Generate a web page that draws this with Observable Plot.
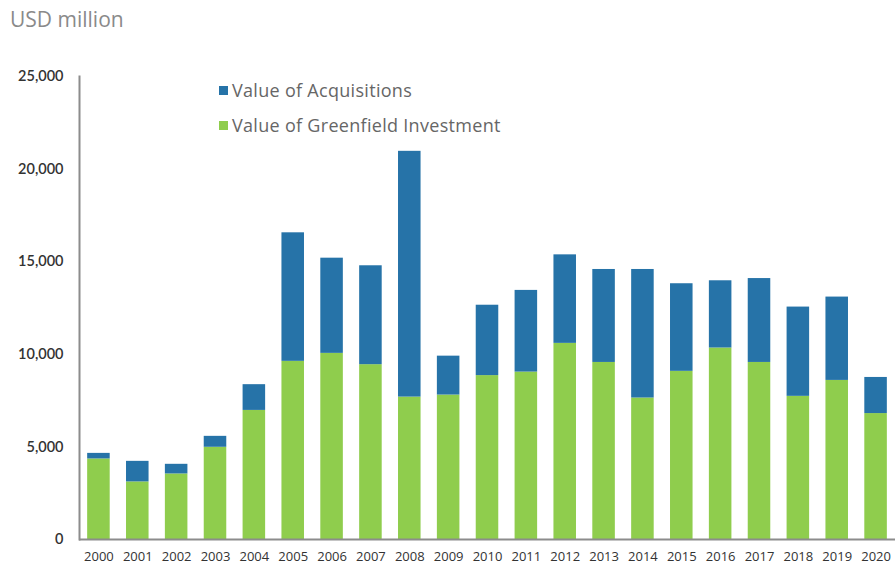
<!DOCTYPE html>
<html>
<head>
<meta charset="utf-8">
<script src="https://cdn.jsdelivr.net/npm/d3@7"></script>
<script src="https://cdn.jsdelivr.net/npm/@observablehq/plot@0.6"></script>
<style>
  body { margin: 0; background: #fff; font-family: "Open Sans", Lato, sans-serif; }
  #wrap { position: relative; width: 896px; height: 570px; }
  #title { height: 36px; padding-left: 10px; font-size: 21px; color: #8a8a8a; line-height: 38px; }
  .legend { position: absolute; left: 219px; font-size: 18px; letter-spacing: 0.3px; color: #666; display: flex; align-items: center; }
  .legend span.sw { display: inline-block; width: 9px; height: 9px; margin-right: 4px; }
</style>
</head>
<body>
<div id="wrap">
  <div id="title">USD million</div>
  <div id="chart"></div>
  <div class="legend" style="top:78px"><span class="sw" style="background:#2673a8"></span>Value of Acquisitions</div>
  <div class="legend" style="top:113px"><span class="sw" style="background:#8fcd4d"></span>Value of Greenfield Investment</div>
</div>
<script>
const years = ["2000","2001","2002","2003","2004","2005","2006","2007","2008","2009","2010",
               "2011","2012","2013","2014","2015","2016","2017","2018","2019","2020"];
const greenfield = [4350, 3110, 3540, 4980, 6970, 9620, 10050, 9440, 7690, 7800, 8850,
                    9040, 10590, 9560, 7640, 9080, 10340, 9560, 7730, 8590, 6800];
const acquisitions = [300, 1110, 520, 590, 1390, 6940, 5140, 5340, 13270, 2100, 3800,
                      4410, 4780, 5020, 6940, 4730, 3630, 4530, 4820, 4500, 1950];
const seriesNames = ["Value of Greenfield Investment", "Value of Acquisitions"];
const seriesColors = ["#8fcd4d", "#2673a8"];
const yTicks = [0, 5000, 10000, 15000, 20000, 25000];

const data = [];
years.forEach((y, i) => {
  data.push({year: y, series: seriesNames[0], value: greenfield[i]});
  data.push({year: y, series: seriesNames[1], value: acquisitions[i]});
});

const chart = Plot.plot({
  width: 896,
  height: 534,
  marginTop: 40,
  marginBottom: 31,
  marginLeft: 79,
  marginRight: 1,
  style: {fontFamily: "Lato, sans-serif", background: "#fff"},
  x: {domain: years, paddingInner: 0.42, paddingOuter: 0.21, round: false, label: null},
  y: {domain: [0, 25000], label: null},
  color: {domain: seriesNames, range: seriesColors},
  marks: [
    Plot.barY(data, {x: "year", y: "value", fill: "series", order: seriesNames}),
    Plot.axisY({ticks: yTicks, tickFormat: d3.format(","), tickSize: 0, tickPadding: 16,
                fontSize: 14.5, fontWeight: 600, fill: "#333", label: null}),
    Plot.axisX({tickSize: 0, tickPadding: 12, fontSize: 13, fontFamily: "Open Sans", fill: "#333", label: null}),
    Plot.frame({anchor: "left", stroke: "#8c8c8c", strokeWidth: 2}),
    Plot.ruleY([0], {stroke: "#8c8c8c", strokeWidth: 2})
  ]
});
document.getElementById("chart").appendChild(chart);
</script>
</body>
</html>
